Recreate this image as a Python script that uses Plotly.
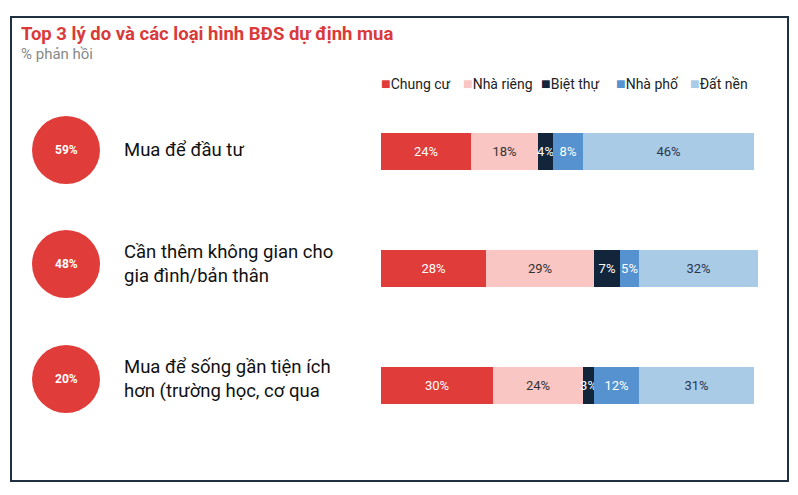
import plotly.graph_objects as go

W, H = 790, 487  # page body has an 8px margin
OFF = 8
reasons = ["Mua để đầu tư", "Cần thêm không gian cho<br>gia đình/bản thân", "Mua để sống gần tiện ích<br>hơn (trường học, cơ qua"]
shares = ["59%", "48%", "20%"]
types = ["Chung cư", "Nhà riêng", "Biệt thự", "Nhà phố", "Đất nền"]
values = {
    "Chung cư": [24, 28, 30],
    "Nhà riêng": [18, 29, 24],
    "Biệt thự": [4, 7, 3],
    "Nhà phố": [8, 5, 12],
    "Đất nền": [46, 32, 31],
}
colors = ["#E03C3A", "#F9C6C4", "#13253A", "#5592CF", "#A9CBE6"]
textcol = ["white", "#333333", "white", "white", "#2a3550"]
rows = ["r1", "r2", "r3"]

fig = go.Figure()
for t, c, tc in zip(types, colors, textcol):
    v = values[t]
    fig.add_trace(go.Bar(
        y=rows, x=v, orientation="h", name=t, marker=dict(color=c, line_width=0),
        text=[f"{x}%" for x in v], textposition="inside", insidetextanchor="middle",
        textangle=0, textfont=dict(color=tc, size=13, family="Roboto"), width=0.31,
        constraintext="none", cliponaxis=False, showlegend=False,
    ))

def px(x): return (x - OFF) / W
def py(y): return 1 - (y - OFF) / H

def ann(x, y, text, size, color, xanchor="left"):
    fig.add_annotation(xref="paper", yref="paper", x=px(x), y=py(y), text=text,
                       xanchor=xanchor, yanchor="middle", align="left", showarrow=False,
                       font=dict(color=color, size=size, family="Roboto"))

centers = [150, 264, 379]
for yc, s, r in zip(centers, shares, reasons):
    fig.add_shape(type="circle", xref="paper", yref="paper",
                  x0=px(32), x1=px(100), y0=py(yc - 34), y1=py(yc + 34),
                  fillcolor="#E03C3A", line_width=0)
    ann(66, yc, f"<b>{s}</b>", 12, "white", "center")
    ann(122, yc, r, 18.5, "#111")

legend_x = [379, 461, 539, 614, 688]
for lx, t, c in zip(legend_x, types, colors):
    ann(lx, 83, f"<span style='color:{c};font-size:16px'>■</span>{t}", 14, "#222")

fig.add_shape(type="rect", xref="paper", yref="paper", x0=px(11), x1=px(788), y0=py(17), y1=py(481),
              line=dict(color="#1f3140", width=2))
ann(19, 34, "<b>Top 3 lý do và các loại hình BĐS dự định mua</b>", 18.5, "#D93A3A")
ann(19, 54, "% phản hồi", 15, "#888")

fig.update_layout(
    width=W, height=H, margin=dict(l=0, r=0, t=0, b=0), barmode="stack",
    plot_bgcolor="white", paper_bgcolor="white", bargap=0, showlegend=False,
    xaxis=dict(domain=[px(381), px(758)], range=[0, 101], visible=False),
    yaxis=dict(domain=[py(444), py(93)], range=[2.5, -0.5], visible=False),
)
fig.write_html("out.html")
